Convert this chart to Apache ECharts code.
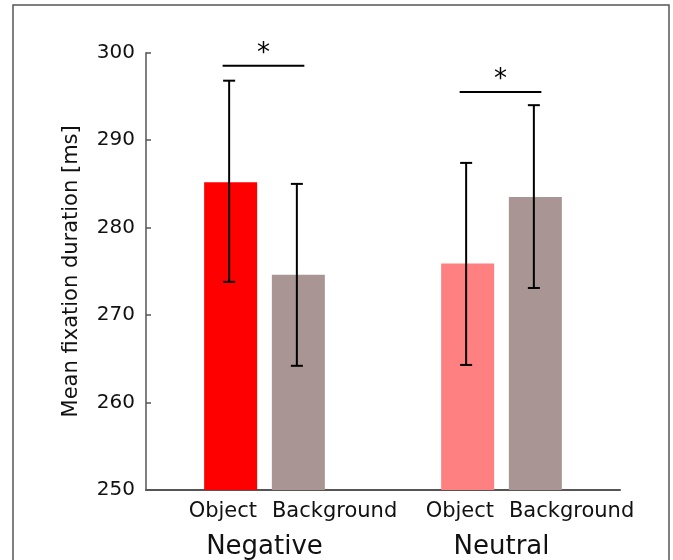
<!DOCTYPE html>
<html>
<head>
<meta charset="utf-8">
<script src="https://cdn.jsdelivr.net/npm/echarts@6/dist/echarts.min.js"></script>
<style>
  html, body { margin: 0; padding: 0; background: #fff; }
  #main { width: 673px; height: 560px; }
</style>
</head>
<body>
<div id="main"></div>
<script>
// data
const groups = ['Negative', 'Neutral'];
const conditions = ['Object', 'Background'];
const means = [285.2, 274.6, 275.9, 283.5];      // Neg-Obj, Neg-Bg, Neu-Obj, Neu-Bg
const errLow = [273.8, 264.2, 264.3, 273.1];
const errHigh = [296.8, 285.0, 287.4, 294.0];
const sigLevels = [298.5, 295.5];                 // significance bar height per group
const yTicks = [250, 260, 270, 280, 290, 300];

const colors = ['#ff0000', '#aa9595', '#ff8080', '#aa9595'];

// slot positions on the hidden x scale (0..14)
const halfBar = 0.78;   // half bar width in x units (53px / 2)
const xPos = [];
groups.forEach((g, gi) => {
  conditions.forEach((c, ci) => { xPos.push(2.5 + 7 * gi + 2 * ci); });
});
// Object label ends at its bar's right edge, Background label starts at its bar's left edge
const objEdge = xPos.filter((x, i) => i % 2 === 0).map(x => x + halfBar);
const bgEdge = xPos.filter((x, i) => i % 2 === 1).map(x => x - halfBar);
const groupPos = groups.map((g, gi) => 3.5 + 7 * gi);
const groupLabel = {};
groupPos.forEach((x, i) => { groupLabel[x] = groups[i]; });

const font = 'DejaVu Sans';
const chart = echarts.init(document.getElementById('main'));

function labelAxis(values, text, align, size, margin, showLine) {
  return {
    type: 'value', min: 0, max: 14, position: 'bottom',
    splitLine: { show: false },
    axisTick: { show: false },
    axisLine: { show: showLine, onZero: false, lineStyle: { color: '#555', width: 2 } },
    axisLabel: {
      customValues: values,
      formatter: typeof text === 'function' ? text : () => text,
      align: align, hideOverlap: false,
      showMinLabel: true, showMaxLabel: true,
      fontSize: size, color: '#111', margin: margin, fontFamily: font
    }
  };
}

const option = {
  animation: false,
  backgroundColor: '#fff',
  textStyle: { fontFamily: font },
  graphic: [{
    type: 'rect',
    z: -10,
    shape: { x: 13, y: 5, width: 656, height: 600 },
    style: { fill: 'none', stroke: '#555', lineWidth: 1.5 }
  }],
  grid: { left: 146, right: 53, top: 52.7, bottom: 68.3, containLabel: false },
  xAxis: [
    labelAxis(objEdge, conditions[0], 'right', 21, 11, true),
    labelAxis(bgEdge, conditions[1], 'left', 21, 11, false),
    labelAxis(groupPos, v => groupLabel[v] || '', 'center', 26, 44, false)
  ],
  yAxis: {
    type: 'value', min: 250, max: 300, interval: 10,
    name: 'Mean fixation duration [ms]',
    nameLocation: 'middle', nameGap: 64,
    nameTextStyle: { fontSize: 21, color: '#111', fontFamily: font },
    splitLine: { show: false },
    axisLine: { show: true, lineStyle: { color: '#555', width: 1.5 } },
    axisTick: { show: true, inside: true, length: 5, lineStyle: { color: '#555', width: 1.5 } },
    axisLabel: {
      fontSize: 20, color: '#111', margin: 11, fontFamily: font,
      formatter: v => yTicks.includes(v) ? String(v) : ''
    }
  },
  series: [
    {
      // bars
      type: 'custom',
      data: means.map((m, i) => [xPos[i], m, i]),
      renderItem: (params, api) => {
        const x = api.value(0);
        const top = api.coord([x, api.value(1)]);
        const base = api.coord([x, 250]);
        const w = 53;
        return {
          type: 'rect',
          shape: { x: top[0] - w / 2, y: top[1], width: w, height: base[1] - top[1] },
          style: { fill: colors[api.value(2)] }
        };
      }
    },
    {
      // error bars
      type: 'custom',
      z: 3,
      data: means.map((m, i) => [xPos[i], errLow[i], errHigh[i]]),
      renderItem: (params, api) => {
        const x = api.value(0);
        const lo = api.coord([x, api.value(1)]);
        const hi = api.coord([x, api.value(2)]);
        const cx = lo[0] - 1.5;
        const cap = 6;
        const st = { stroke: '#000', lineWidth: 2 };
        return {
          type: 'group',
          children: [
            { type: 'line', shape: { x1: cx, y1: lo[1], x2: cx, y2: hi[1] }, style: st },
            { type: 'line', shape: { x1: cx - cap, y1: lo[1], x2: cx + cap, y2: lo[1] }, style: st },
            { type: 'line', shape: { x1: cx - cap, y1: hi[1], x2: cx + cap, y2: hi[1] }, style: st }
          ]
        };
      }
    },
    {
      // significance lines with stars
      type: 'custom',
      z: 3,
      data: sigLevels.map((s, gi) => [xPos[gi * 2], xPos[gi * 2 + 1], s]),
      renderItem: (params, api) => {
        const a = api.coord([api.value(0), api.value(2)]);
        const b = api.coord([api.value(1), api.value(2)]);
        const x1 = a[0] - 8, x2 = b[0] + 6;
        return {
          type: 'group',
          children: [
            { type: 'line', shape: { x1: x1, y1: a[1], x2: x2, y2: a[1] },
              style: { stroke: '#000', lineWidth: 2 } },
            { type: 'text', x: (x1 + x2) / 2, y: a[1] - 12,
              style: { text: '*', fontSize: 26, fontFamily: font, fill: '#000',
                       align: 'center', verticalAlign: 'middle' } }
          ]
        };
      }
    }
  ]
};

chart.setOption(option);
</script>
</body>
</html>
